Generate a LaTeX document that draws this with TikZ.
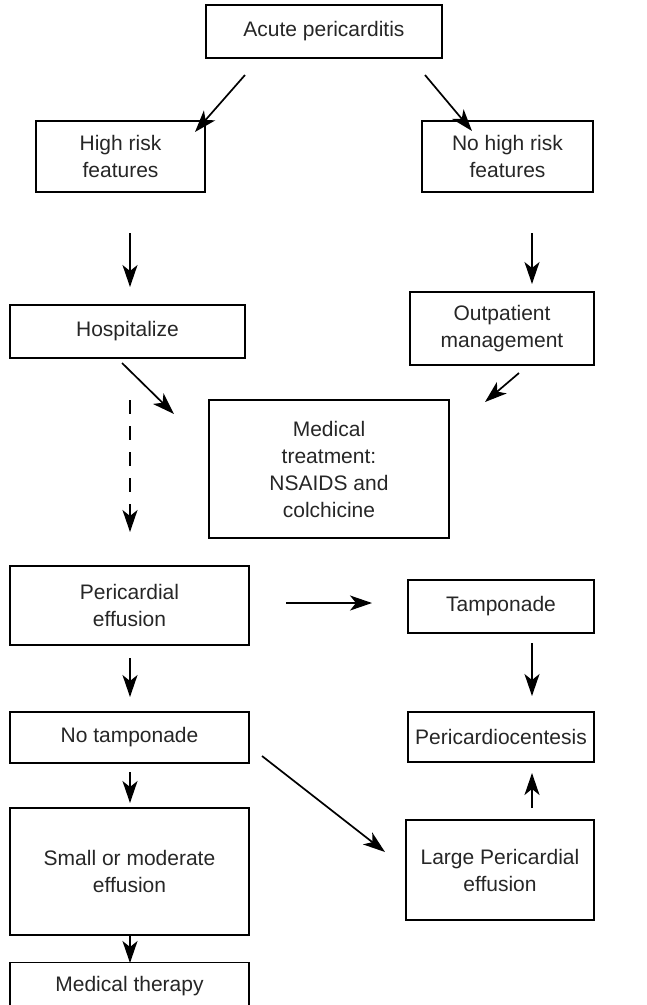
\documentclass[tikz,border=0pt]{standalone}
\usepackage{fontspec}
\setmainfont{Liberation Sans}
\usetikzlibrary{arrows.meta}
\begin{document}
\begin{tikzpicture}[x=1pt,y=-1pt,
  box/.style={draw=black,line width=1.3pt,align=center,inner sep=0pt,
    font=\fontsize{21}{27}\selectfont,text=black!85},
  arr/.style={line width=1.7pt,-{Stealth[length=22pt,width=15pt,inset=6pt]}}]
\useasboundingbox (0,0) rectangle (647,1005);
\clip (0,0) rectangle (647,1005);
% boxes, placed by centre
\node[box,minimum width=236pt,minimum height=53pt] (acute) at (324,31.5) {Acute pericarditis};
\node[box,minimum width=169pt,minimum height=71pt] (high) at (120.5,156.5) {High risk\\features};
\node[box,minimum width=171pt,minimum height=71pt] (nohigh) at (507.5,156.5) {No high risk\\features};
\node[box,minimum width=235pt,minimum height=53pt] (hosp) at (127.5,331.5) {Hospitalize};
\node[box,minimum width=184pt,minimum height=73pt] (outp) at (502,328.5) {Outpatient\\management};
\node[box,minimum width=240pt,minimum height=138pt] (med) at (329,469) {Medical\\treatment:\\NSAIDS and\\colchicine};
\node[box,minimum width=239pt,minimum height=79pt] (peff) at (129.5,605.5) {Pericardial\\effusion};
\node[box,minimum width=186pt,minimum height=53pt] (tamp) at (501,606.5) {Tamponade};
\node[box,minimum width=239pt,minimum height=51pt] (notamp) at (129.5,737.5) {No tamponade};
\node[box,minimum width=186pt,minimum height=50pt] (pcent) at (501,737) {Pericardiocentesis};
\node[box,minimum width=239pt,minimum height=127pt] (small) at (129.5,871.5) {Small or moderate\\effusion};
\node[box,minimum width=188pt,minimum height=100pt] (large) at (500,870) {Large Pericardial\\effusion};
\node[box,minimum width=239pt,minimum height=70pt,anchor=north] (mther) at (129.5,962) {};
\node[font=\fontsize{21}{27}\selectfont,text=black!85] (mtxt) at (129.5,986.5) {Medical therapy};
% connectors
\coordinate (a1) at (245,75);   \coordinate (a1e) at (195,132);
\coordinate (a2) at (425,75);   \coordinate (a2e) at (472,131);
\coordinate (a3) at (130,233);  \coordinate (a3e) at (130,287);
\coordinate (a4) at (532,233);  \coordinate (a4e) at (532,284);
\coordinate (a5) at (122,363);  \coordinate (a5e) at (174,414);
\coordinate (a6) at (519,373);  \coordinate (a6e) at (485,402);
\coordinate (a7) at (130,400);  \coordinate (a7e) at (130,532);
\coordinate (a8) at (286,603);  \coordinate (a8e) at (372,603);
\coordinate (a9) at (130,658);  \coordinate (a9e) at (130,697);
\coordinate (a10) at (532,643); \coordinate (a10e) at (532,696);
\coordinate (a11) at (130,772); \coordinate (a11e) at (130,803);
\coordinate (a12) at (262,756); \coordinate (a12e) at (385,852);
\coordinate (a13) at (532,808); \coordinate (a13e) at (532,773);
\coordinate (a14) at (130,935); \coordinate (a14e) at (130,963);
\draw[arr] (a1) -- (a1e);
\draw[arr] (a2) -- (a2e);
\draw[arr] (a3) -- (a3e);
\draw[arr] (a4) -- (a4e);
\draw[arr] (a5) -- (a5e);
\draw[arr] (a6) -- (a6e);
\draw[arr,dash pattern=on 14pt off 12pt] (a7) -- (a7e);
\draw[arr] (a8) -- (a8e);
\draw[arr] (a9) -- (a9e);
\draw[arr] (a10) -- (a10e);
\draw[arr] (a11) -- (a11e);
\draw[arr] (a12) -- (a12e);
\draw[arr] (a13) -- (a13e);
\draw[arr] (a14) -- (a14e);
\end{tikzpicture}
\end{document}
